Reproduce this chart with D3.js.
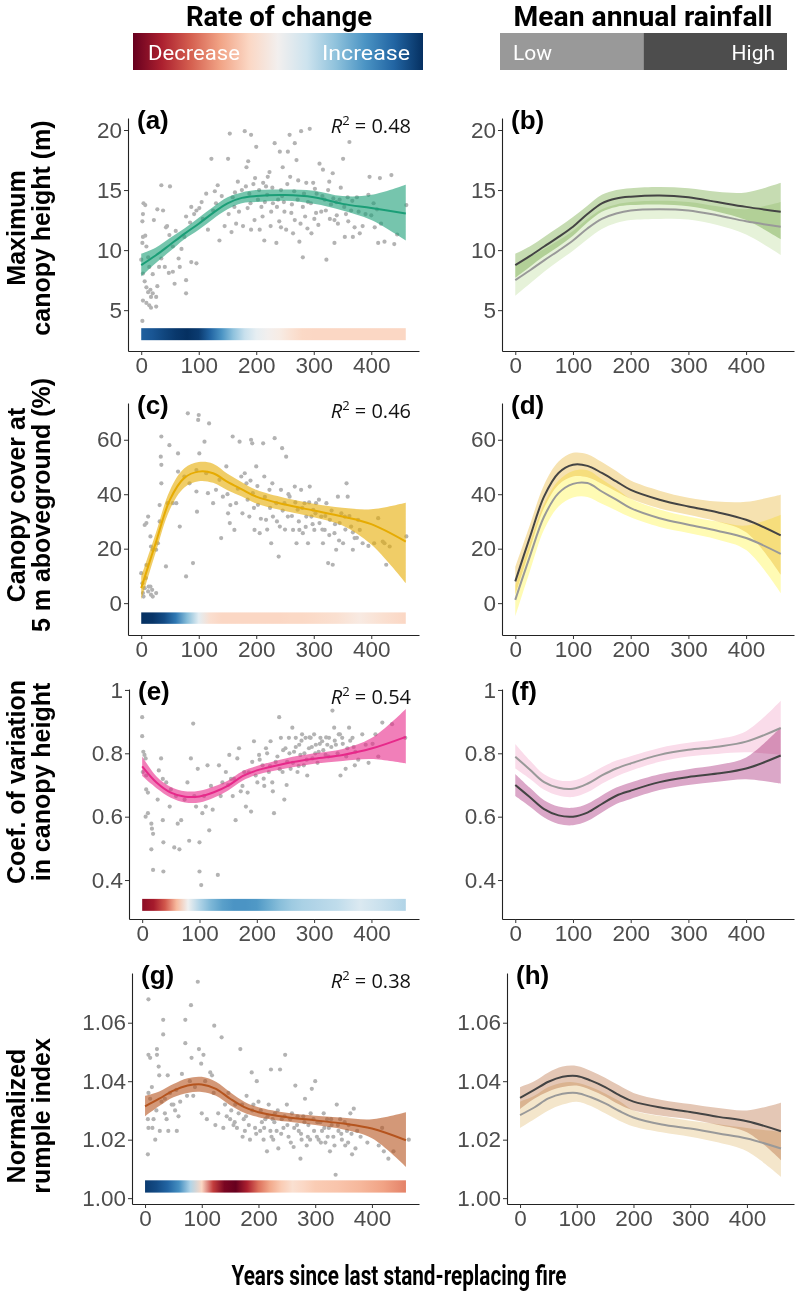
<!DOCTYPE html>
<html>
<head>
<meta charset="utf-8">
<script src="https://cdn.jsdelivr.net/npm/d3@7"></script>
<style>
  body { margin: 0; background: #fff; }
  svg { display: block; }
</style>
</head>
<body>
<div id="chart"></div>
<script>
// ---- data ----
const xTicks = [0, 100, 200, 300, 400];
const fitYears = [0, 25, 50, 75, 100, 125, 150, 175, 200, 250, 300, 350, 400, 460];
const rateYears = [0, 20, 40, 60, 80, 100, 120, 140, 160, 180, 200, 220, 240, 260, 280, 300, 340, 380, 420, 460];

// (a) maximum canopy height
const fitA = [8.75, 9.55, 10.45, 11.35, 12.2, 13.1, 13.9, 14.35, 14.5, 14.58, 14.4, 13.85, 13.5, 13.05];
const loA = [7.8, 8.9, 9.9, 10.9, 11.7, 12.6, 13.4, 13.9, 14.0, 14.1, 13.85, 13.3, 12.5, 10.8];
const hiA = [9.7, 10.2, 11.0, 11.8, 12.7, 13.6, 14.4, 14.8, 15.0, 15.05, 14.95, 14.5, 14.6, 15.45];
const rateA = [0.82, 0.86, 0.92, 0.97, 1.0, 0.96, 0.8, 0.6, 0.4, 0.22, 0.08, 0.0, -0.06, -0.14, -0.19, -0.2, -0.2, -0.2, -0.2, -0.2];
const ptsA = [[3,13.0],[2,12.4],[4,13.9],[7,13.75],[3,11.1],[7,11.2],[2,10.6],[9,10.3],[0,9.2],[12,9.4],[14,8.6],[3,8.05],[6,7.4],[9,6.9],[12,6.5],[16,6.7],[20,6.4],[3,5.8],[9,5.6],[14,5.4],[17,5.2],[26,5.3],[2,4.1],[26,6.1],[17,6.1],[31,8.6],[35,9.3],[35,15.4],[50,15.3],[38,13.3],[43,11.9],[49,11.25],[55,10.3],[41,8.6],[55,8.2],[67,8.6],[65,9.3],[58,7.2],[78,7.5],[78,6.4],[87,9.0],[96,8.9],[70,10.1],[75,11.1],[78,12.8],[87,13.6],[96,13.3],[101,13.5],[107,12.6],[116,11.7],[125,13.3],[130,13.9],[136,10.8],[113,14.7],[122,17.6],[128,14.9],[133,15.4],[151,17.6],[154,19.7],[159,14.4],[162,13.6],[165,12.2],[168,15.7],[180,19.9],[183,16.9],[186,17.4],[188,14.7],[191,19.6],[191,11.7],[197,12.5],[200,18.6],[203,14.2],[206,11.7],[209,13.6],[212,15.6],[214,10.8],[217,15.3],[220,16.1],[223,16.5],[226,13.2],[229,13.9],[232,18.9],[235,10.6],[238,14.2],[241,18.2],[243,15.0],[243,11.9],[246,16.9],[249,13.2],[252,11.7],[255,18.2],[258,19.6],[259,16.1],[264,11.4],[267,18.9],[267,12.5],[270,17.5],[272,14.2],[275,10.7],[278,19.9],[281,13.6],[281,9.4],[287,15.6],[290,14.0],[293,20.1],[296,11.4],[299,15.6],[301,12.6],[304,13.1],[310,17.2],[313,13.2],[316,16.7],[319,14.2],[322,9.2],[325,15.0],[328,12.6],[333,16.4],[336,12.5],[336,10.6],[339,14.0],[345,14.2],[351,17.6],[354,11.1],[359,14.4],[362,19.0],[365,13.3],[368,11.1],[371,11.9],[380,11.4],[397,16.1],[400,12.9],[406,11.9],[412,10.6],[415,16.0],[417,12.2],[423,10.7],[435,16.25],[461,13.75],[22,12.5],[28,13.4],[45,12.0],[60,11.6],[85,12.3],[92,13.0],[105,14.0],[140,14.5],[145,12.0],[175,15.0],[185,13.5],[195,15.5],[215,14.0],[225,12.0],[245,14.5],[262,13.8],[285,12.8],[305,14.7],[330,13.8],[342,12.2],[356,13.0],[375,14.4],[390,13.0],[410,13.4],[20,8.0],[28,7.0],[48,8.1],[152,13.0],[157,11.5],[163,14.8],[170,13.2],[177,12.0],[182,15.3],[190,13.9],[198,16.0],[205,15.0],[211,12.8],[219,14.6],[228,15.2],[236,13.6],[240,12.4],[248,14.0],[254,15.5],[261,13.1],[266,14.9],[273,15.8],[277,12.2],[283,14.7],[289,11.8],[295,13.9],[302,15.1],[308,12.1],[315,14.5],[321,13.3],[327,15.7],[334,14.3],[340,12.9],[347,15.2],[353,13.6],[360,12.4],[367,14.1],[378,13.2],[385,12.0],[395,14.6],[404,13.9],[440,10.5],[445,11.3]];

// (b) maximum canopy height by rainfall
const bHigh = [8.75, 9.5, 10.3, 11.1, 11.95, 13.0, 13.9, 14.3, 14.45, 14.55, 14.4, 14.0, 13.6, 13.2];
const bHighLo = [7.7, 8.6, 9.5, 10.3, 11.2, 12.3, 13.2, 13.6, 13.75, 13.8, 13.65, 13.2, 12.5, 10.9];
const bHighHi = [9.7, 10.3, 11.1, 11.9, 12.75, 13.7, 14.6, 15.0, 15.15, 15.25, 15.15, 14.85, 14.8, 15.6];
const bLow = [7.5, 8.3, 9.15, 9.95, 10.8, 11.8, 12.6, 13.05, 13.3, 13.4, 13.3, 12.9, 12.4, 11.95];
const bLowLo = [6.2, 7.2, 8.2, 9.1, 9.95, 10.9, 11.75, 12.25, 12.5, 12.6, 12.55, 12.1, 11.3, 9.6];
const bLowHi = [8.7, 9.4, 10.1, 10.8, 11.6, 12.6, 13.4, 13.8, 14.0, 14.1, 14.0, 13.65, 13.4, 14.0];

// (c) canopy cover at 5 m
const fitC = [5.5, 22, 38, 46, 48.3, 47.7, 44.5, 41.8, 39.1, 36.2, 34, 31.8, 29, 22.6];
const loC = [1.2, 18.5, 34.5, 42.5, 44.8, 44.2, 41.5, 39.2, 36.6, 33.8, 31.5, 28.5, 21.5, 7.3];
const hiC = [9.8, 25.5, 41.5, 49.5, 51.8, 51.2, 47.5, 44.4, 41.6, 38.6, 36.5, 35, 34.5, 36.9];
const rateC = [1.0, 0.98, 0.9, 0.72, 0.42, 0.1, -0.16, -0.2, -0.2, -0.2, -0.2, -0.2, -0.2, -0.19, -0.19, -0.18, -0.15, -0.08, -0.15, -0.2];
const ptsC = [[0,11],[2,7.3],[3,3.7],[4,2.4],[6,5.5],[8,9.2],[9,14],[12,4.3],[13,6.1],[16,6.1],[17,3.1],[19,4.9],[20,2.4],[26,3.7],[6,28.7],[9,29.4],[12,31.8],[16,24.5],[17,20.8],[20,19.6],[26,19.6],[29,22],[32,30],[32,36],[35,44],[35,50.8],[34,53.8],[35,61.2],[49,58],[46,36.7],[43,13.5],[55,36.7],[61,36.7],[64,55],[64,48.3],[67,28.1],[75,46.5],[78,9.8],[81,69.7],[84,44],[90,14.7],[96,48.9],[96,41],[97,33.6],[99,67.3],[100,69.1],[101,55],[110,59.3],[113,47.7],[116,40.4],[118,66],[125,36.7],[130,41.6],[136,45.3],[139,23.9],[142,39.1],[148,50.2],[151,33],[154,29.4],[159,61.2],[162,26.9],[165,36.7],[171,59.3],[174,46.5],[180,47.7],[183,44],[188,31.8],[191,60],[193,58.7],[194,40.4],[197,26.9],[200,50.2],[203,36.1],[206,25.7],[212,58.7],[214,46.5],[217,30.6],[223,41.6],[226,22],[229,31.8],[232,60.6],[235,36.7],[239,17.1],[241,28.1],[243,41.6],[245,56.9],[249,36.7],[252,53.8],[255,31.8],[258,39.1],[264,26.9],[267,42.8],[270,22],[272,34.3],[275,26.9],[278,41.6],[281,25.7],[284,36.7],[287,31.8],[290,22],[293,42.8],[296,31.8],[299,34.3],[301,26.9],[304,36.7],[310,29.4],[313,31.8],[316,22],[319,26.9],[322,36.7],[325,14.7],[328,30.6],[333,14.1],[336,25.7],[339,19.6],[342,39.1],[345,29.4],[351,22],[354,31.8],[357,44],[359,39.1],[365,28.1],[368,19.6],[371,23.9],[377,30.6],[380,26.9],[412,31.2],[420,22.6],[423,22],[426,14.1],[432,20.8],[461,24.5],[150,40],[155,36],[168,42],[176,33],[185,38],[190,45],[196,35],[202,43],[208,31],[215,39],[219,27],[224,35],[228,44],[236,30],[246,34],[250,27],[256,40],[262,32],[268,37],[274,30],[280,35],[286,28],[292,37],[298,29],[303,33],[309,38],[315,27],[320,32],[327,25],[331,34],[337,29],[344,23],[348,33],[355,27],[362,32],[368,26],[375,24],[385,22],[395,21],[405,22]];

// (d) canopy cover by rainfall
const dHigh = [8.0, 24, 39.2, 47.8, 50.8, 50.4, 47.8, 44.7, 41.6, 38.0, 35.5, 33.4, 30.6, 24.9];
const dHighLo = [3, 19.5, 35, 43.5, 46.5, 46.2, 43.8, 41, 38.3, 34.8, 32.5, 30, 26, 10.4];
const dHighHi = [13.2, 28.5, 43.5, 52, 55.2, 54.7, 51.8, 48.5, 45, 41.3, 38.7, 37.3, 37.2, 39.8];
const dLow = [1.2, 17, 31.8, 40.4, 43.8, 44.1, 41.0, 38.0, 34.9, 31.2, 28.8, 26.6, 23.9, 18.1];
const dLowLo = [-4.9, 11.5, 27, 35.5, 38.8, 39, 36.5, 34, 31.5, 28, 25.8, 23.4, 19.5, 3.7];
const dLowHi = [6.5, 22, 36.5, 45, 48.5, 48.8, 45.5, 42, 38.3, 34.4, 31.8, 30, 28.5, 32.5];

// (e) coefficient of variation
const fitE = [0.759, 0.708, 0.676, 0.663, 0.664, 0.677, 0.698, 0.728, 0.746, 0.768, 0.783, 0.795, 0.815, 0.852];
const loE = [0.728, 0.69, 0.66, 0.645, 0.645, 0.66, 0.683, 0.713, 0.732, 0.752, 0.767, 0.776, 0.782, 0.768];
const hiE = [0.79, 0.727, 0.694, 0.68, 0.682, 0.695, 0.714, 0.743, 0.76, 0.784, 0.8, 0.814, 0.848, 0.94];
const rateE = [-0.9, -0.82, -0.62, -0.32, 0.02, 0.3, 0.45, 0.55, 0.6, 0.6, 0.58, 0.5, 0.42, 0.36, 0.32, 0.3, 0.25, 0.14, 0.22, 0.3];
const ptsE = [[0,0.914],[0,0.854],[2,0.805],[4,0.795],[6,0.784],[1,0.741],[7,0.73],[7,0.686],[10,0.676],[6,0.6],[10,0.611],[16,0.578],[17,0.562],[19,0.546],[16,0.497],[19,0.432],[27,0.654],[29,0.746],[33,0.784],[36,0.719],[36,0.589],[37,0.519],[37,0.427],[42,0.708],[48,0.632],[50,0.686],[56,0.503],[59,0.665],[62,0.578],[65,0.497],[68,0.589],[74,0.654],[79,0.708],[82,0.524],[85,0.784],[89,0.894],[91,0.665],[94,0.632],[97,0.751],[100,0.519],[100,0.427],[103,0.384],[105,0.611],[108,0.665],[111,0.632],[114,0.762],[117,0.557],[120,0.697],[123,0.622],[132,0.416],[134,0.762],[137,0.665],[140,0.708],[146,0.741],[152,0.795],[155,0.719],[158,0.665],[163,0.589],[166,0.784],[169,0.816],[175,0.697],[178,0.741],[181,0.632],[184,0.676],[190,0.616],[192,0.773],[195,0.838],[198,0.73],[201,0.708],[204,0.795],[210,0.762],[213,0.697],[216,0.816],[221,0.741],[224,0.838],[227,0.708],[230,0.611],[233,0.773],[239,0.914],[242,0.849],[245,0.741],[248,0.654],[250,0.816],[253,0.773],[256,0.849],[259,0.751],[262,0.881],[265,0.805],[268,0.849],[271,0.741],[274,0.827],[276,0.795],[279,0.86],[282,0.762],[285,0.849],[288,0.73],[291,0.816],[294,0.849],[297,0.784],[300,0.86],[303,0.827],[308,0.805],[311,0.849],[314,0.838],[320,0.795],[323,0.827],[326,0.849],[332,0.935],[335,0.881],[338,0.827],[343,0.86],[346,0.73],[349,0.849],[355,0.751],[358,0.816],[361,0.881],[367,0.849],[371,0.762],[372,0.805],[384,0.86],[390,0.827],[407,0.86],[419,0.897],[436,0.892],[459,0.849],[205,0.78],[212,0.72],[218,0.80],[223,0.76],[228,0.68],[236,0.79],[240,0.75],[246,0.81],[252,0.70],[257,0.80],[263,0.77],[268,0.82],[273,0.76],[278,0.84],[283,0.80],[287,0.78],[292,0.85],[296,0.82],[302,0.80],[306,0.77],[310,0.83],[316,0.81],[321,0.85],[325,0.79],[330,0.82],[336,0.84],[341,0.80],[345,0.86],[350,0.83],[356,0.79],[363,0.84],[369,0.82],[377,0.78],[395,0.77],[402,0.83],[412,0.79],[160,0.72],[172,0.68],[186,0.74],[150,0.70]];

// (f) coefficient of variation by rainfall
const fHigh = [0.70, 0.662, 0.624, 0.604, 0.60, 0.613, 0.64, 0.666, 0.682, 0.709, 0.725, 0.736, 0.752, 0.793];
const fHighLo = [0.665, 0.632, 0.597, 0.577, 0.573, 0.586, 0.613, 0.64, 0.656, 0.684, 0.70, 0.71, 0.718, 0.704];
const fHighHi = [0.735, 0.692, 0.652, 0.632, 0.628, 0.641, 0.667, 0.692, 0.708, 0.734, 0.75, 0.763, 0.787, 0.882];
const fLow = [0.789, 0.749, 0.709, 0.691, 0.688, 0.704, 0.73, 0.752, 0.768, 0.795, 0.811, 0.821, 0.837, 0.88];
const fLowLo = [0.752, 0.72, 0.685, 0.667, 0.662, 0.677, 0.704, 0.727, 0.745, 0.773, 0.79, 0.798, 0.803, 0.795];
const fLowHi = [0.829, 0.778, 0.734, 0.715, 0.714, 0.731, 0.756, 0.777, 0.791, 0.817, 0.833, 0.845, 0.87, 0.966];

// (g) normalized rumple index
const fitG = [1.0314, 1.034, 1.0368, 1.0385, 1.0389, 1.0374, 1.034, 1.0311, 1.0294, 1.0277, 1.0266, 1.0255, 1.0238, 1.0198];
const loG = [1.028, 1.0315, 1.0345, 1.036, 1.0363, 1.035, 1.0318, 1.0292, 1.0277, 1.0262, 1.025, 1.0235, 1.0205, 1.0107];
const hiG = [1.035, 1.0365, 1.039, 1.041, 1.0415, 1.0398, 1.0362, 1.033, 1.0311, 1.0292, 1.0282, 1.0275, 1.027, 1.0294];
const rateG = [0.96, 0.9, 0.8, 0.62, 0.3, -0.2, -0.7, -0.95, -1.0, -0.8, -0.55, -0.38, -0.25, -0.15, -0.2, -0.25, -0.28, -0.33, -0.4, -0.5];
const ptsG = [[6,1.068],[6,1.049],[9,1.048],[6,1.036],[5,1.027],[6,1.024],[5,1.015],[9,1.034],[12,1.038],[13,1.024],[15,1.027],[18,1.020],[21,1.051],[21,1.049],[24,1.045],[25,1.042],[26,1.023],[29,1.033],[32,1.061],[32,1.056],[35,1.029],[38,1.027],[40,1.042],[41,1.023],[44,1.036],[47,1.032],[50,1.032],[53,1.030],[56,1.023],[59,1.028],[65,1.0425],[71,1.061],[71,1.053],[74,1.035],[79,1.040],[81,1.066],[82,1.048],[85,1.035],[93,1.074],[95,1.051],[99,1.046],[100,1.029],[103,1.049],[109,1.027],[115,1.043],[118,1.042],[121,1.036],[122,1.059],[124,1.025],[129,1.029],[135,1.055],[138,1.024],[141,1.032],[144,1.028],[147,1.036],[150,1.027],[156,1.025],[159,1.032],[162,1.024],[168,1.051],[171,1.032],[174,1.027],[176,1.023],[179,1.035],[185,1.020],[188,1.043],[191,1.032],[194,1.024],[197,1.040],[200,1.033],[203,1.023],[206,1.026],[209,1.020],[212,1.027],[215,1.016],[218,1.032],[221,1.023],[222,1.044],[225,1.027],[226,1.020],[229,1.029],[232,1.023],[235,1.017],[238,1.044],[241,1.027],[244,1.024],[247,1.049],[250,1.032],[253,1.021],[256,1.027],[259,1.029],[262,1.0175],[265,1.0385],[268,1.025],[271,1.023],[274,1.0135],[276,1.020],[279,1.028],[282,1.034],[285,1.018],[288,1.025],[291,1.020],[294,1.0374],[297,1.027],[300,1.040],[303,1.021],[306,1.020],[309,1.026],[312,1.023],[315,1.029],[318,1.019],[321,1.027],[324,1.024],[326,1.016],[329,1.025],[332,1.021],[336,1.008],[338,1.032],[341,1.023],[344,1.027],[347,1.020],[353,1.018],[356,1.023],[359,1.025],[362,1.029],[365,1.015],[368,1.0306],[371,1.017],[374,1.023],[412,1.018],[418,1.024],[421,1.016],[429,1.0135],[438,1.016],[465,1.020],[152,1.030],[158,1.026],[165,1.029],[172,1.021],[178,1.028],[183,1.025],[189,1.030],[196,1.022],[204,1.030],[210,1.024],[216,1.028],[223,1.021],[228,1.026],[234,1.030],[240,1.022],[246,1.028],[251,1.025],[257,1.019],[263,1.024],[269,1.028],[275,1.022],[281,1.026],[287,1.021],[292,1.029],[298,1.023],[304,1.026],[310,1.019],[316,1.024],[322,1.021],[328,1.027],[334,1.018],[340,1.025],[346,1.022],[352,1.026],[358,1.019],[364,1.022],[380,1.021],[392,1.019],[20,1.030],[35,1.034],[55,1.037],[62,1.033],[88,1.038],[106,1.040]];

// (h) rumple index by rainfall
const hHigh = [1.0343, 1.037, 1.0398, 1.0415, 1.0418, 1.0402, 1.038, 1.0352, 1.033, 1.0309, 1.0295, 1.0278, 1.0263, 1.0229];
const hHighLo = [1.0305, 1.034, 1.0365, 1.038, 1.0385, 1.037, 1.0348, 1.032, 1.03, 1.0282, 1.027, 1.025, 1.0225, 1.013];
const hHighHi = [1.038, 1.040, 1.043, 1.045, 1.0452, 1.0435, 1.0412, 1.0385, 1.036, 1.0336, 1.0322, 1.0308, 1.03, 1.0326];
const hLow = [1.0284, 1.031, 1.0341, 1.0357, 1.036, 1.0345, 1.0324, 1.0298, 1.0276, 1.0252, 1.0238, 1.0221, 1.0204, 1.017];
const hLowLo = [1.024, 1.027, 1.030, 1.032, 1.033, 1.0315, 1.029, 1.0265, 1.0245, 1.0225, 1.021, 1.019, 1.016, 1.0073];
const hLowHi = [1.033, 1.035, 1.038, 1.0395, 1.0395, 1.038, 1.0358, 1.0332, 1.030, 1.028, 1.0265, 1.0253, 1.024, 1.0227];

const r2Labels = ["0.48", "0.46", "0.54", "0.38"];
const yTitles = [["Maximum", "canopy height (m)"], ["Canopy cover at", "5 m aboveground (%)"],
                 ["Coef. of variation", "in canopy height"], ["Normalized", "rumple index"]];

// ---- layout ----
const W = 795, H = 1293;
const svg = d3.select("#chart").append("svg").attr("width", W).attr("height", H);
svg.append("rect").attr("width", W).attr("height", H).attr("fill", "#fff");
const defs = svg.append("defs");

const rows = [
  {top: 118, bottom: 351, leftAxis: 128, rightAxis: 502, dom: [1.6, 21], ticks: [5, 10, 15, 20], fmt: d3.format("d"), titleY: 228},
  {top: 403, bottom: 635, leftAxis: 128, rightAxis: 502, dom: [-11.7, 73.5], ticks: [0, 20, 40, 60], fmt: d3.format("d"), titleY: 505},
  {top: 689, bottom: 919, leftAxis: 129, rightAxis: 502, dom: [0.277, 1.003], ticks: [0.4, 0.6, 0.8, 1], fmt: d => d === 1 ? "1" : d.toFixed(1), titleY: 782},
  {top: 973, bottom: 1204, leftAxis: 132, rightAxis: 507, dom: [0.998, 1.077], ticks: [1.0, 1.02, 1.04, 1.06], fmt: d => d.toFixed(2), titleY: 1116}
];
const xDom = [-23, 483];

const leftPanels = [
  {label: "(a)", color: "#1b9e77", pts: ptsA, fit: fitA, lo: loA, hi: hiA, rate: rateA, bar: [2.5, 3.5]},
  {label: "(c)", color: "#e6ab02", pts: ptsC, fit: fitC, lo: loC, hi: hiC, rate: rateC, bar: [-7.6, -3.4]},
  {label: "(e)", color: "#e7298a", pts: ptsE, fit: fitE, lo: loE, hi: hiE, rate: rateE, bar: [0.3027, 0.3405]},
  {label: "(g)", color: "#b5541e", pts: ptsG, fit: fitG, lo: loG, hi: hiG, rate: rateG, bar: [1.0019, 1.0061]}
];
const rightPanels = [
  {label: "(b)", highFill: "#c6dcb2", lowFill: "#e6f2d9", high: bHigh, highLo: bHighLo, highHi: bHighHi, low: bLow, lowLo: bLowLo, lowHi: bLowHi},
  {label: "(d)", highFill: "#f6e2b0", lowFill: "#fffbb4", high: dHigh, highLo: dHighLo, highHi: dHighHi, low: dLow, lowLo: dLowLo, lowHi: dLowHi},
  {label: "(f)", highFill: "#dba7c8", lowFill: "#fadcea", high: fHigh, highLo: fHighLo, highHi: fHighHi, low: fLow, lowLo: fLowLo, lowHi: fLowHi},
  {label: "(h)", highFill: "#e4c7b5", lowFill: "#f4e6cb", high: hHigh, highLo: hHighLo, highHi: hHighHi, low: hLow, lowLo: hLowLo, lowHi: hLowHi}
];

const tickFont = "'Liberation Sans', Arial, sans-serif";

function drawAxes(x, y, row) {
  const ax = svg.append("g").attr("transform", `translate(0,${row.bottom})`)
    .call(d3.axisBottom(x).tickValues(xTicks).tickSize(4).tickSizeOuter(0).tickPadding(2));
  const ay = svg.append("g").attr("transform", `translate(${x.range()[0]},0)`)
    .call(d3.axisLeft(y).tickValues(row.ticks).tickFormat(row.fmt).tickSize(4).tickSizeOuter(0).tickPadding(2));
  [ax, ay].forEach(a => {
    a.selectAll("text").attr("font-family", tickFont).attr("font-size", 22.5).attr("fill", "#4d4d4d");
    a.select(".domain").attr("stroke", "#222").attr("stroke-width", 1.1);
    a.selectAll(".tick line").attr("stroke", "#333");
  });
}

function panelLabel(x, row, txt) {
  svg.append("text").attr("x", x + 9).attr("y", row.top + 11)
    .attr("font-family", tickFont).attr("font-weight", "bold").attr("font-size", 26)
    .attr("fill", "#000").text(txt);
}

const idx = d3.range(fitYears.length);

rows.forEach((row, r) => {
  const y = d3.scaleLinear().domain(row.dom).range([row.bottom, row.top]);

  // left panel: points + smooth fit + rate-of-change strip
  const lp = leftPanels[r];
  const xl = d3.scaleLinear().domain(xDom).range([row.leftAxis, 419]);

  svg.append("g").selectAll("circle").data(lp.pts).enter().append("circle")
    .attr("cx", d => xl(d[0])).attr("cy", d => y(d[1])).attr("r", 2.1)
    .attr("fill", "#b3b3b3");

  const band = d3.area().x(i => xl(fitYears[i])).y0(i => y(lp.lo[i])).y1(i => y(lp.hi[i])).curve(d3.curveCatmullRom);
  svg.append("path").datum(idx).attr("d", band).attr("fill", lp.color).attr("opacity", 0.6);
  const line = d3.line().x(i => xl(fitYears[i])).y(i => y(lp.fit[i])).curve(d3.curveCatmullRom);
  svg.append("path").datum(idx).attr("d", line).attr("fill", "none").attr("stroke", lp.color).attr("stroke-width", 2);

  const gid = "rate" + r;
  const grad = defs.append("linearGradient").attr("id", gid).attr("x1", "0%").attr("x2", "100%");
  grad.selectAll("stop").data(lp.rate).enter().append("stop")
    .attr("offset", (d, i) => (rateYears[i] / 460 * 100) + "%")
    .attr("stop-color", d => d3.interpolateRdBu((d + 1) / 2));
  svg.append("rect").attr("x", xl(0)).attr("width", xl(460) - xl(0))
    .attr("y", y(lp.bar[1])).attr("height", y(lp.bar[0]) - y(lp.bar[1]))
    .attr("fill", `url(#${gid})`);

  drawAxes(xl, y, row);
  panelLabel(row.leftAxis, row, lp.label);

  const r2 = svg.append("text").attr("x", 411).attr("y", row.top + 15).attr("text-anchor", "end")
    .attr("font-family", "'Open Sans', sans-serif").attr("font-size", 20).attr("fill", "#111");
  r2.append("tspan").attr("font-style", "italic").text("R");
  r2.append("tspan").attr("font-size", 13).attr("dy", -8).text("2");
  r2.append("tspan").attr("dy", 8).text(" = " + r2Labels[r]);

  // y title
  const t = svg.append("text").attr("transform", `translate(0,${row.titleY}) rotate(-90)`)
    .attr("text-anchor", "middle").attr("font-family", tickFont).attr("font-weight", "bold")
    .attr("font-size", 25).attr("fill", "#000");
  t.append("tspan").attr("x", 0).attr("y", 25).text(yTitles[r][0]);
  t.append("tspan").attr("x", 0).attr("y", 50).text(yTitles[r][1]);

  // right panel: low and high rainfall fits
  const rp = rightPanels[r];
  const xr = d3.scaleLinear().domain(xDom).range([row.rightAxis, 794]);
  const areaOf = (lo, hi) => d3.area().x(i => xr(fitYears[i])).y0(i => y(lo[i])).y1(i => y(hi[i])).curve(d3.curveCatmullRom);
  const lineOf = v => d3.line().x(i => xr(fitYears[i])).y(i => y(v[i])).curve(d3.curveCatmullRom);
  svg.append("path").datum(idx).attr("d", areaOf(rp.lowLo, rp.lowHi)).attr("fill", rp.lowFill);
  svg.append("path").datum(idx).attr("d", areaOf(rp.highLo, rp.highHi)).attr("fill", rp.highFill)
    .style("mix-blend-mode", "multiply");
  svg.append("path").datum(idx).attr("d", lineOf(rp.low)).attr("fill", "none").attr("stroke", "#999999").attr("stroke-width", 2);
  svg.append("path").datum(idx).attr("d", lineOf(rp.high)).attr("fill", "none").attr("stroke", "#444444").attr("stroke-width", 2);

  drawAxes(xr, y, row);
  panelLabel(row.rightAxis, row, rp.label);
});

// ---- top legends ----
const headFont = "Roboto, 'Noto Sans', sans-serif";
svg.append("text").attr("x", 279).attr("y", 26).attr("text-anchor", "middle")
  .attr("font-family", headFont).attr("font-weight", "bold").attr("font-size", 28)
  .attr("textLength", 186).attr("lengthAdjust", "spacingAndGlyphs").text("Rate of change");
const lg = defs.append("linearGradient").attr("id", "legendGrad").attr("x1", "0%").attr("x2", "100%");
d3.range(0, 1.0001, 0.1).forEach(t => lg.append("stop").attr("offset", (t * 100) + "%").attr("stop-color", d3.interpolateRdBu(t)));
svg.append("rect").attr("x", 133).attr("y", 33).attr("width", 290).attr("height", 37).attr("fill", "url(#legendGrad)");
svg.append("text").attr("x", 148).attr("y", 60).attr("font-family", headFont).attr("font-size", 21)
  .attr("fill", "#fff").attr("textLength", 92).attr("lengthAdjust", "spacingAndGlyphs").text("Decrease");
svg.append("text").attr("x", 322).attr("y", 60).attr("font-family", headFont).attr("font-size", 21)
  .attr("fill", "#fff").attr("textLength", 88).attr("lengthAdjust", "spacingAndGlyphs").text("Increase");

svg.append("text").attr("x", 643).attr("y", 26).attr("text-anchor", "middle")
  .attr("font-family", headFont).attr("font-weight", "bold").attr("font-size", 28)
  .attr("textLength", 259).attr("lengthAdjust", "spacingAndGlyphs").text("Mean annual rainfall");
const rainLevels = ["Low", "High"];
const rainColors = ["#999999", "#4d4d4d"];
const rainX = d3.scaleBand().domain(rainLevels).range([500, 787]);
svg.append("g").selectAll("rect").data(rainLevels).enter().append("rect")
  .attr("x", d => rainX(d)).attr("y", 33).attr("width", rainX.bandwidth()).attr("height", 37)
  .attr("fill", (d, i) => rainColors[i]);
svg.append("text").attr("x", 513).attr("y", 60).attr("font-family", headFont).attr("font-size", 21)
  .attr("fill", "#fff").text("Low");
svg.append("text").attr("x", 775).attr("y", 60).attr("text-anchor", "end").attr("font-family", headFont).attr("font-size", 21)
  .attr("fill", "#fff").text("High");

// ---- bottom title ----
svg.append("text").attr("x", 399).attr("y", 1285).attr("text-anchor", "middle")
  .attr("font-family", headFont).attr("font-weight", "bold").attr("font-size", 27)
  .attr("textLength", 335).attr("lengthAdjust", "spacingAndGlyphs").text("Years since last stand-replacing fire");
</script>
</body>
</html>
